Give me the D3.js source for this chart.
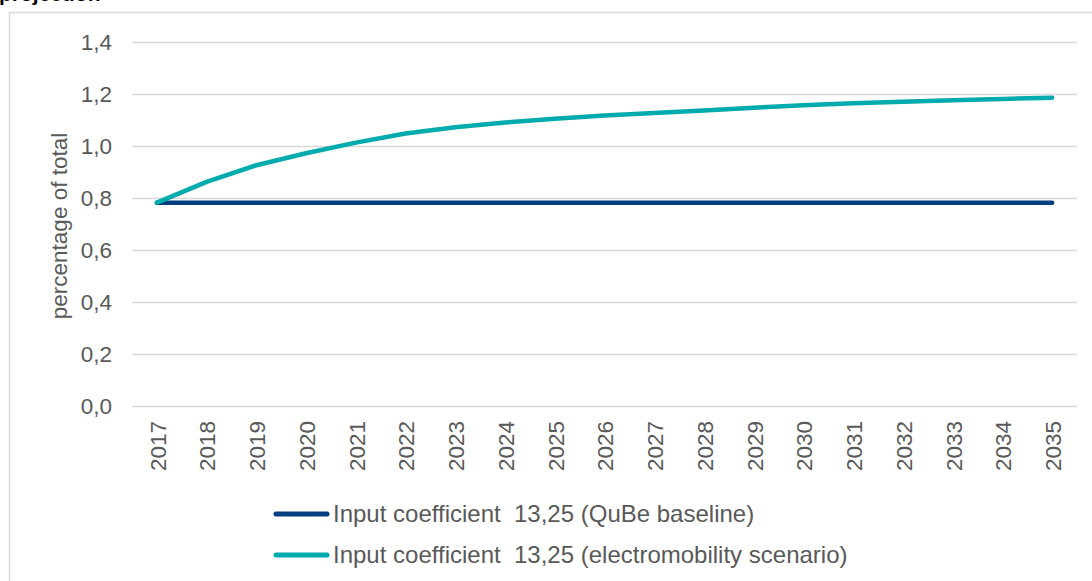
<!DOCTYPE html>
<html><head><meta charset="utf-8">
<script src="https://cdn.jsdelivr.net/npm/d3@7"></script>
<style>
html,body{margin:0;padding:0;background:#fff;}
svg{display:block;font-family:"Liberation Sans",Arial,sans-serif;}
</style></head>
<body>
<svg id="c" width="1092" height="581"></svg>
<script>
const years = ["2017","2018","2019","2020","2021","2022","2023","2024","2025","2026","2027","2028","2029","2030","2031","2032","2033","2034","2035"];
const baseline = [0.782,0.782,0.782,0.782,0.782,0.782,0.782,0.782,0.782,0.782,0.782,0.782,0.782,0.782,0.782,0.782,0.782,0.782,0.782];
const electro = [0.782,0.862,0.926,0.972,1.013,1.048,1.072,1.090,1.105,1.117,1.127,1.137,1.147,1.157,1.164,1.170,1.176,1.181,1.186];
const yTicks = [0,0.2,0.4,0.6,0.8,1.0,1.2,1.4];
const seriesNames = ["Input coefficient  13,25 (QuBe baseline)","Input coefficient  13,25 (electromobility scenario)"];
const colors = ["#003f7f","#00abad"];

(function(){
const svg = d3.select("#c");
const pLeft = 132, pRight = 1077, pTop = 42, pBottom = 406;
const fs = 22.5;

svg.append("rect").attr("x",9.5).attr("y",12.5).attr("width",1200).attr("height",700)
  .attr("fill","none").attr("stroke","#d9d9d9").attr("stroke-width",1.5);

svg.append("text").attr("x",-1).attr("y",1).attr("font-size",21).attr("font-weight","bold")
  .attr("fill","#000").text("projection");

const x = d3.scaleBand().domain(years).range([pLeft,pRight]);
const y = d3.scaleLinear().domain([0,1.4]).range([pBottom,pTop]);

svg.append("g").selectAll("line").data(yTicks).join("line")
  .attr("x1",pLeft).attr("x2",pRight)
  .attr("y1",d=>Math.round(y(d))+0.5).attr("y2",d=>Math.round(y(d))+0.5)
  .attr("stroke","#d9d9d9").attr("stroke-width",1.5);

const yAxis = d3.axisLeft(y).tickValues(yTicks).tickSize(0).tickPadding(0)
  .tickFormat(d=>d3.format(".1f")(d).replace(".",","));
const yg = svg.append("g").attr("transform",`translate(${pLeft-20},0)`).call(yAxis);
yg.select(".domain").remove();
yg.selectAll("text").attr("font-size",fs).attr("fill","#595959")
  .attr("font-family","Liberation Sans, Arial, sans-serif").attr("dy","0.35em");

const xAxis = d3.axisBottom(x).tickSize(0).tickPadding(0);
const xg = svg.append("g").attr("transform",`translate(0,${pBottom})`).call(xAxis);
xg.select(".domain").remove();
xg.selectAll("text").attr("font-size",fs).attr("fill","#595959")
  .attr("font-family","Liberation Sans, Arial, sans-serif")
  .attr("text-anchor","end").attr("transform","translate(1,15) rotate(-90)")
  .attr("x",0).attr("y",0).attr("dy","0.35em");

svg.append("text").attr("transform",`translate(67,226) rotate(-90)`)
  .attr("text-anchor","middle").attr("font-size",fs).attr("fill","#595959")
  .text("percentage of total");

const line = d3.line().x((d,i)=>x(years[i])+x.bandwidth()/2).y(d=>y(d));
[baseline, electro].forEach((s,i)=>{
  svg.append("path").datum(s).attr("d",line).attr("fill","none")
    .attr("stroke",colors[i]).attr("stroke-width",4.5)
    .attr("stroke-linecap","round").attr("stroke-linejoin","round");
});

const leg = svg.append("g");
seriesNames.forEach((n,i)=>{
  const ly = 514 + i*41;
  leg.append("line").attr("x1",276).attr("x2",327).attr("y1",ly).attr("y2",ly)
    .attr("stroke",colors[i]).attr("stroke-width",5).attr("stroke-linecap","round");
  leg.append("text").attr("x",333).attr("y",ly).attr("dy","0.35em")
    .attr("font-size",24).attr("fill","#595959").attr("xml:space","preserve").text(n);
});
})();
</script>
</body></html>
